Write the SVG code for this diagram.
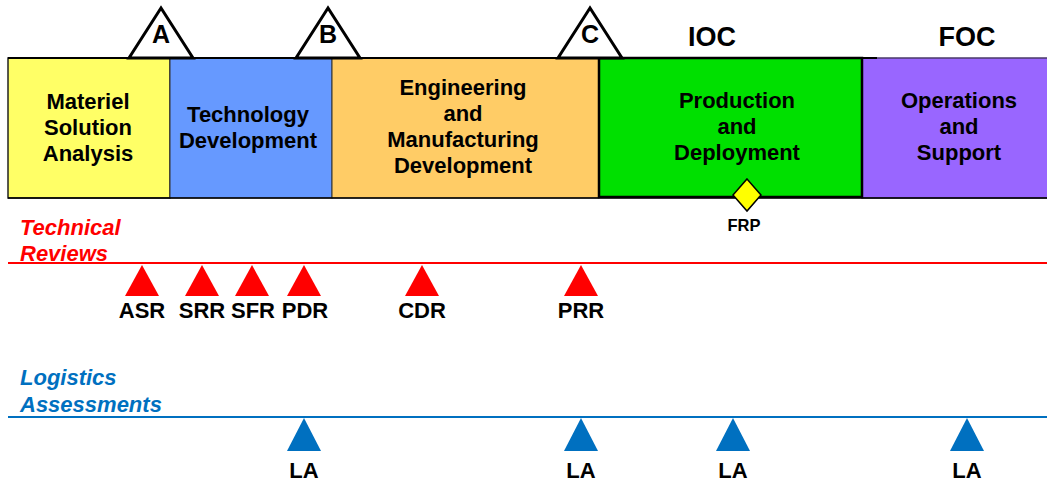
<svg xmlns="http://www.w3.org/2000/svg" width="1047" height="483" viewBox="0 0 1047 483">
<style>
.t{font-family:"Liberation Sans",Arial,sans-serif;font-weight:bold;fill:#000;text-anchor:middle}
.ph{font-size:22px}
.ms{font-size:25px}
.cap{font-size:27px}
.lbl{font-size:22px}
.hdr{font-family:"Liberation Sans",Arial,sans-serif;font-weight:bold;font-style:italic;font-size:22px}
.ms-tri{fill:#fff;stroke:#000;stroke-width:3;stroke-linejoin:miter}
.rev{fill:#ff0000}
.la{fill:#0070c0}
</style>
<rect width="1047" height="483" fill="#fff"/>
<g id="phase-msa">
<rect x="8" y="58" width="162" height="140" fill="#ffff66" stroke="#222" stroke-width="1.5"/>
<text class="t ph" x="88" y="109">Materiel</text>
<text class="t ph" x="88" y="135">Solution</text>
<text class="t ph" x="88" y="161">Analysis</text>
</g>
<g id="phase-td">
<rect x="170" y="58" width="162" height="140" fill="#6699ff" stroke="#333" stroke-width="1"/>
<text class="t ph" x="248" y="122">Technology</text>
<text class="t ph" x="248" y="148">Development</text>
</g>
<g id="phase-emd">
<rect x="332" y="58" width="267" height="140" fill="#ffcc66" stroke="#333" stroke-width="1"/>
<text class="t ph" x="463" y="95">Engineering</text>
<text class="t ph" x="463" y="121">and</text>
<text class="t ph" x="463" y="147">Manufacturing</text>
<text class="t ph" x="463" y="173">Development</text>
</g>
<g id="phase-os">
<rect x="862" y="58" width="190" height="140" fill="#9966ff" stroke="#4a3a6a" stroke-width="1.5"/>
<text class="t ph" x="959" y="108">Operations</text>
<text class="t ph" x="959" y="134">and</text>
<text class="t ph" x="959" y="160">Support</text>
</g>
<g id="phase-pd">
<rect x="599" y="58" width="263" height="139" fill="#00e000" stroke="#000" stroke-width="2.5"/>
<text class="t ph" x="737" y="108">Production</text>
<text class="t ph" x="737" y="134">and</text>
<text class="t ph" x="737" y="160">Deployment</text>
</g>
<g id="connectors">
<line x1="8" y1="58" x2="877" y2="58" stroke="#000" stroke-width="2"/>
<line x1="8" y1="198" x2="1047" y2="198" stroke="#000" stroke-width="1.5"/>
<line x1="8" y1="263" x2="1047" y2="263" stroke="#ff0000" stroke-width="2"/>
<line x1="8" y1="417" x2="1047" y2="417" stroke="#0070c0" stroke-width="2"/>
</g>
<g id="milestone-a">
<polygon class="ms-tri" points="161,8 129,58 193,58"/>
<text class="t ms" x="161" y="43">A</text>
</g>
<g id="milestone-b">
<polygon class="ms-tri" points="328,8 296,58 360,58"/>
<text class="t ms" x="328" y="43">B</text>
</g>
<g id="milestone-c">
<polygon class="ms-tri" points="590,8 558,58 622,58"/>
<text class="t ms" x="590" y="43">C</text>
</g>
<g id="ioc"><text class="t cap" x="712" y="46">IOC</text></g>
<g id="foc"><text class="t cap" x="967" y="46">FOC</text></g>
<g id="frp">
<polygon points="747,179 761,195 747,211 733,195" fill="#ffff00" stroke="#000" stroke-width="1.5"/>
<text class="t" style="font-size:16.5px" x="744" y="231">FRP</text>
</g>
<g id="tech-reviews-header">
<text class="hdr" fill="#ff0000" x="20" y="235">Technical</text>
<text class="hdr" fill="#ff0000" x="20" y="261">Reviews</text>
</g>
<g id="log-header">
<text class="hdr" fill="#0070c0" x="20" y="385">Logistics</text>
<text class="hdr" fill="#0070c0" x="20" y="412">Assessments</text>
</g>
<g id="rev-asr"><polygon class="rev" points="142,265 125,296 159,296"/><text class="t lbl" x="142" y="318">ASR</text></g>
<g id="rev-srr"><polygon class="rev" points="202,265 185,296 219,296"/><text class="t lbl" x="202" y="318">SRR</text></g>
<g id="rev-sfr"><polygon class="rev" points="252,265 235,296 269,296"/><text class="t lbl" x="253" y="318">SFR</text></g>
<g id="rev-pdr"><polygon class="rev" points="304,265 287,296 321,296"/><text class="t lbl" x="305" y="318">PDR</text></g>
<g id="rev-cdr"><polygon class="rev" points="422,265 405,296 439,296"/><text class="t lbl" x="422" y="318">CDR</text></g>
<g id="rev-prr"><polygon class="rev" points="581,265 564,296 598,296"/><text class="t lbl" x="581" y="318">PRR</text></g>
<g id="la-1"><polygon class="la" points="304,418 287,451 321,451"/><text class="t lbl" x="304" y="478">LA</text></g>
<g id="la-2"><polygon class="la" points="581,418 564,451 598,451"/><text class="t lbl" x="581" y="478">LA</text></g>
<g id="la-3"><polygon class="la" points="733,418 716,451 750,451"/><text class="t lbl" x="733" y="478">LA</text></g>
<g id="la-4"><polygon class="la" points="967,418 950,451 984,451"/><text class="t lbl" x="967" y="478">LA</text></g>
</svg>
